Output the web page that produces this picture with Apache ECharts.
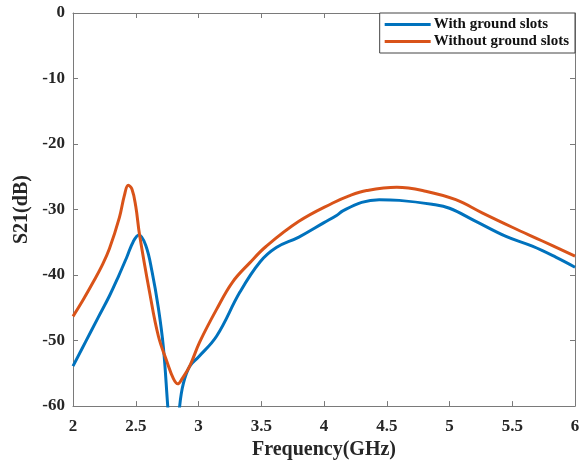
<!DOCTYPE html>
<html><head><meta charset="utf-8">
<script src="https://cdn.jsdelivr.net/npm/echarts@6/dist/echarts.min.js"></script>
<style>html,body{margin:0;padding:0;background:#fff}#c{width:586px;height:465px}</style>
</head><body><div id="c"></div>
<script>
const xTicks = [2, 2.5, 3, 3.5, 4, 4.5, 5, 5.5, 6];
const yTicks = [-60, -50, -40, -30, -20, -10, 0];
const seriesNames = ['With ground slots', 'Without ground slots'];
const withFreq = [2.0, 2.1, 2.2, 2.29, 2.36, 2.43, 2.48, 2.525, 2.58, 2.63, 2.68, 2.72, 2.755, 2.78, 2.83, 2.85, 2.88, 2.93, 3.0, 3.145, 3.33, 3.49, 3.62, 3.8, 4.0, 4.1, 4.15, 4.3, 4.44, 4.6, 4.86, 5.0, 5.21, 5.45, 5.66, 5.85, 6.0];
const withS21 = [-53.9, -50.2, -46.5, -43.2, -40.3, -37.2, -34.9, -33.9, -35.5, -39.5, -45, -51, -60, -66, -66, -60, -56.5, -53.9, -52.5, -49.3, -42.6, -38, -35.8, -34.2, -32.0, -30.9, -30.2, -28.9, -28.5, -28.6, -29.2, -29.8, -31.8, -34.1, -35.6, -37.3, -38.8];
const withoutFreq = [2.0, 2.08, 2.16, 2.23, 2.29, 2.37, 2.41, 2.44, 2.47, 2.5, 2.53, 2.61, 2.68, 2.75, 2.8, 2.835, 2.87, 2.93, 3.01, 3.145, 3.27, 3.41, 3.54, 3.8, 4.07, 4.2, 4.34, 4.58, 4.81, 5.05, 5.26, 5.5, 5.74, 6.0];
const withoutS21 = [-46.3, -43.8, -41.1, -38.6, -36, -31.2, -27.8, -26.3, -26.9, -29.5, -33.8, -42.6, -49.3, -53.3, -55.8, -56.6, -55.8, -53.9, -50.2, -45.2, -41.1, -38.1, -35.6, -31.8, -29.0, -27.9, -27.1, -26.6, -27.2, -28.5, -30.5, -32.7, -34.8, -37.1];

const font = 'Liberation Serif';
const axisCol = '#7a7a7a';
const txtCol = '#262626';
const pair = (xs, ys) => xs.map((x, i) => [x, ys[i]]);

const chart = echarts.init(document.getElementById('c'), null, {renderer: 'canvas'});
chart.setOption({
  animation: false,
  backgroundColor: '#fff',
  grid: {left: 73, right: 11, top: 13, bottom: 58, show: false},
  legend: {
    orient: 'vertical', right: 11, top: 13,
    data: seriesNames,
    icon: 'rect', itemWidth: 46, itemHeight: 3, itemGap: 2,
    padding: [4, 6, 4, 5],
    borderColor: '#444', borderWidth: 1, backgroundColor: '#fff',
    textStyle: {fontFamily: font, fontWeight: 'bold', fontSize: 15, color: '#111', padding: [0, 0, 0, -2]}
  },
  xAxis: [{
    type: 'value', min: xTicks[0], max: xTicks[xTicks.length - 1], interval: 0.5,
    name: 'Frequency(GHz)', nameLocation: 'middle', nameGap: 32,
    nameTextStyle: {fontFamily: font, fontWeight: 'bold', fontSize: 20, color: txtCol},
    axisLine: {show: true, onZero: false, lineStyle: {color: axisCol, width: 1}},
    axisTick: {show: true, inside: true, length: 5, lineStyle: {color: axisCol}},
    axisLabel: {fontFamily: font, fontWeight: 'bold', fontSize: 17, color: txtCol, margin: 12},
    splitLine: {show: false}
  }, {
    type: 'value', position: 'top', min: xTicks[0], max: xTicks[xTicks.length - 1], interval: 0.5,
    axisLine: {show: true, lineStyle: {color: axisCol, width: 1}},
    axisTick: {show: true, inside: true, length: 5, lineStyle: {color: axisCol}},
    axisLabel: {show: false}, splitLine: {show: false}
  }],
  yAxis: [{
    type: 'value', min: yTicks[0], max: yTicks[yTicks.length - 1], interval: 10,
    name: 'S21(dB)', nameLocation: 'middle', nameGap: 41,
    nameTextStyle: {fontFamily: font, fontWeight: 'bold', fontSize: 20, color: txtCol},
    axisLine: {show: true, onZero: false, lineStyle: {color: axisCol, width: 1}},
    axisTick: {show: true, inside: true, length: 5, lineStyle: {color: axisCol}},
    axisLabel: {fontFamily: font, fontWeight: 'bold', fontSize: 17, color: txtCol, margin: 8},
    splitLine: {show: false}
  }, {
    type: 'value', position: 'right', min: yTicks[0], max: yTicks[yTicks.length - 1], interval: 10,
    axisLine: {show: true, lineStyle: {color: axisCol, width: 1}},
    axisTick: {show: true, inside: true, length: 5, lineStyle: {color: axisCol}},
    axisLabel: {show: false}, splitLine: {show: false}
  }],
  series: [{
    name: seriesNames[0], type: 'line', data: pair(withFreq, withS21),
    smooth: 0.4, showSymbol: false, clip: true,
    lineStyle: {color: '#0072BD', width: 3}, itemStyle: {color: '#0072BD'}
  }, {
    name: seriesNames[1], type: 'line', data: pair(withoutFreq, withoutS21),
    smooth: 0.4, showSymbol: false, clip: true,
    lineStyle: {color: '#D95319', width: 3}, itemStyle: {color: '#D95319'}
  }]
});
</script></body></html>
